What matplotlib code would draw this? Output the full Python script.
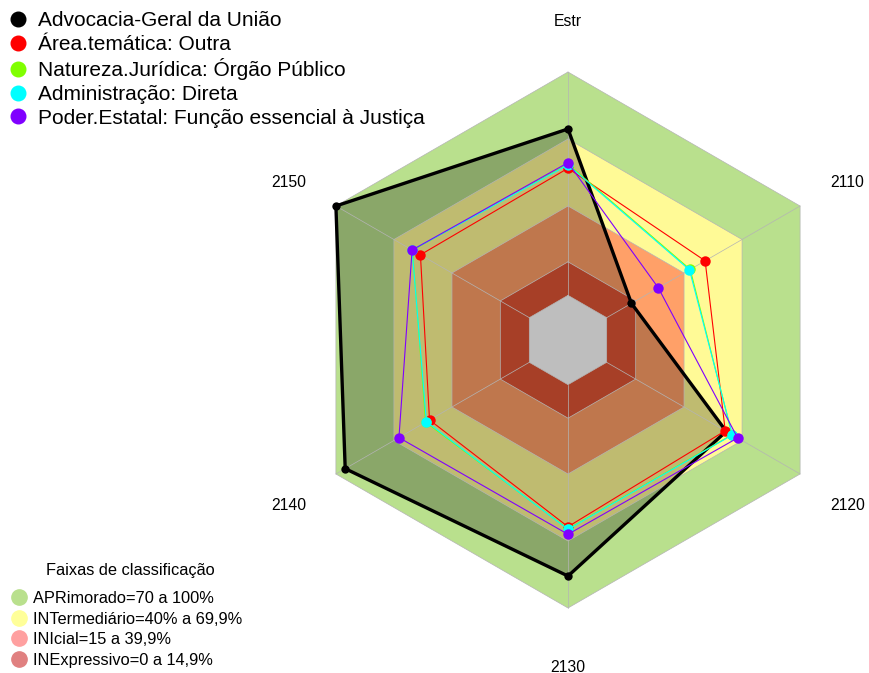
import matplotlib
matplotlib.use('Agg')
import matplotlib.pyplot as plt
import numpy as np
from matplotlib.lines import Line2D

plt.rcParams['font.family'] = ['Liberation Sans', 'DejaVu Sans']

# eixos (sentido horario a partir do topo)
eixos = ['Estr', '2110', '2120', '2130', '2140', '2150']

series = ['Advocacia-Geral da União', 'Área.temática: Outra',
          'Natureza.Jurídica: Órgão Público', 'Administração: Direta',
          'Poder.Estatal: Função essencial à Justiça']
cores = ['#000000', '#FF0000', '#80FF00', '#00FFFF', '#8000FF']

agu = [0.745, 0.128, 0.618, 0.857, 0.952, 1.0]
area = [0.569, 0.509, 0.613, 0.636, 0.516, 0.563]
natureza = [0.588, 0.432, 0.648, 0.646, 0.536, 0.604]
adm = [0.584, 0.428, 0.650, 0.648, 0.532, 0.606]
poder = [0.594, 0.267, 0.677, 0.670, 0.674, 0.606]
valores = [agu, area, natureza, adm, poder]

# faixas de classificacao
faixas = ['APRimorado=70 a 100%', 'INTermediário=40% a 69,9%',
          'INIcial=15 a 39,9%', 'INExpressivo=0 a 14,9%']
limites = [1.0, 0.7, 0.4, 0.15]
cores_faixa = ['#B9E08D', '#FFFA96', '#FFA068', '#E05535']
cores_leg = ['#B9E08D', '#FFFF99', '#FFA0A0', '#E08080']

ang = np.deg2rad(90 - 60 * np.arange(len(eixos)))


def raio(v):
    # centerzero = FALSE: o zero fica a 1/6 do raio
    return (1 + 5 * np.asarray(v, dtype=float)) / 6


def xy(v):
    r = raio(v)
    return r * np.cos(ang), r * np.sin(ang)


fig = plt.figure(figsize=(8.7, 6.73), dpi=100)
ax = fig.add_axes([0, 0, 1, 1])
R = 268.0
ax.set_xlim(-568 / R, (870 - 568) / R)
ax.set_ylim(-(673 - 340) / R, 340 / R)
ax.set_aspect('equal')
ax.axis('off')

grade = '#B4B4B4'
for lim, c in zip(limites, cores_faixa):
    x, y = xy([lim] * 6)
    ax.fill(x, y, color=c, lw=0, zorder=1)
    ax.plot(np.append(x, x[0]), np.append(y, y[0]), color=grade, lw=0.5, zorder=4)

# area da AGU
x, y = xy(agu)
ax.fill(x, y, color='black', alpha=0.25, lw=0, zorder=2)

# centro cinza
x, y = xy([0] * 6)
ax.fill(x, y, color='#BEBEBE', lw=0, zorder=3)
ax.plot(np.append(x, x[0]), np.append(y, y[0]), color=grade, lw=0.5, zorder=4)

for a in ang:
    ax.plot([raio(0) * np.cos(a), np.cos(a)], [raio(0) * np.sin(a), np.sin(a)],
            color=grade, lw=0.5, zorder=4)

for i, (vals, c) in enumerate(zip(valores, cores)):
    x, y = xy(vals)
    lw = 2.4 if i == 0 else 0.8
    ms = 6 if i == 0 else 7.5
    ax.plot(np.append(x, x[0]), np.append(y, y[0]), color=c, lw=lw, zorder=5 + i)
    ax.plot(x, y, 'o', color=c, ms=ms, mec='none', zorder=5 + i)

for a, nome in zip(ang, eixos):
    ax.text(1.205 * np.cos(a), 1.205 * np.sin(a) - 0.016, nome,
            ha='center', va='center', fontsize=11.3)

h1 = [Line2D([], [], ls='none', marker='o', color=c, ms=10.5) for c in cores]
leg1 = fig.legend(h1, series, loc='upper left', bbox_to_anchor=(-0.008, 1.005),
                  frameon=False, fontsize=15, handlelength=1.0, handletextpad=0.45,
                  labelspacing=0.22, borderaxespad=0.3)

fig.text(130 / 870, 1 - 571 / 673, 'Faixas de classificação', ha='center', va='center',
         fontsize=11.8)
h2 = [Line2D([], [], ls='none', marker='o', color=c, ms=11) for c in cores_leg]
leg2 = fig.legend(h2, faixas, loc='lower left', bbox_to_anchor=(-0.004, -0.014),
                  frameon=False, fontsize=11.8, handlelength=1.0, handletextpad=0.3,
                  labelspacing=0.34, borderaxespad=0.5)

fig.savefig('out.png', dpi=100)
